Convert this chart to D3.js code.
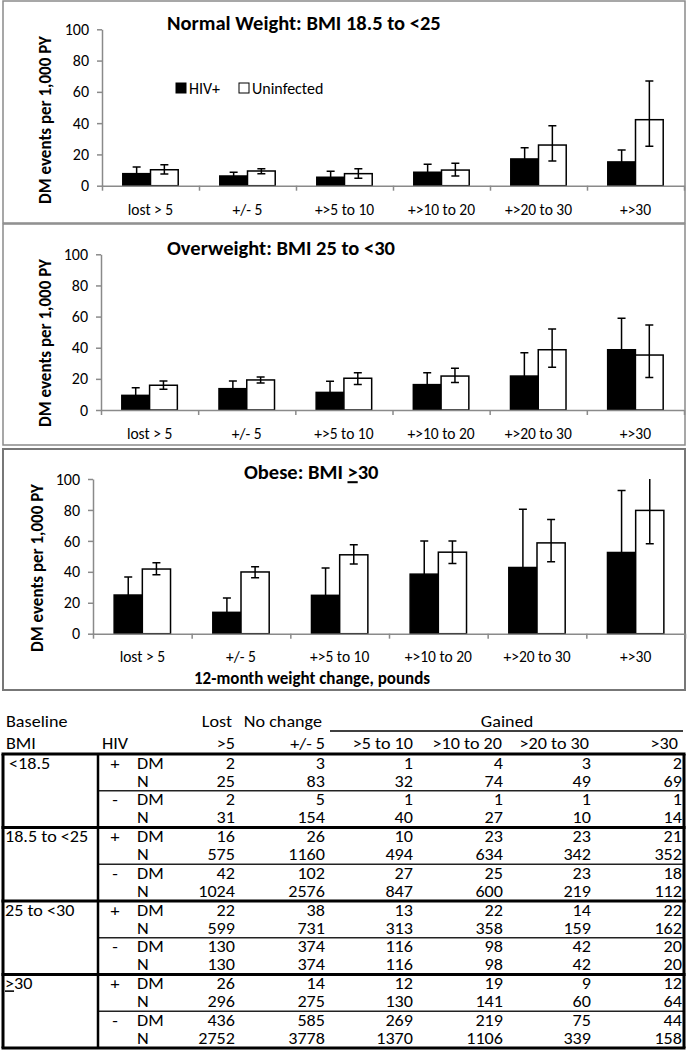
<!DOCTYPE html>
<html>
<head>
<meta charset="utf-8">
<script src="https://cdn.jsdelivr.net/npm/d3@7"></script>
<style>
  body { margin: 0; background: #fff; }
  text { font-family: Carlito, Lato, sans-serif; fill: #000; }
</style>
</head>
<body>
<div id="chart"></div>
<script>
// ---- chart data ----
const categories = ["lost > 5", "+/- 5", "+>5 to 10", "+>10 to 20", "+>20 to 30", "+>30"];
const seriesNames = ["HIV+", "Uninfected"];
const yTicks = [0, 20, 40, 60, 80, 100];
const panelTitles = ["Normal Weight: BMI 18.5 to <25", "Overweight: BMI 25 to <30", "Obese: BMI \u226530"];
const yTitle = "DM events per 1,000 PY";
const xTitle = "12-month weight change, pounds";

// normal weight
const normalHiv    = [7.7, 6.2, 5.4, 8.6, 17.1, 15.2];
const normalHivLo  = [4.5, 4.0, 2.8, 5.2, 11.5, 10.0];
const normalHivHi  = [12.0, 8.6, 9.2, 13.7, 24.3, 22.8];
const normalUnin   = [10.2, 9.4, 7.7, 10.0, 26.0, 42.2];
const normalUninLo = [7.5, 7.7, 4.7, 6.2, 15.8, 25.2];
const normalUninHi = [13.4, 10.9, 10.9, 14.3, 38.4, 66.9];

// overweight
const overHiv    = [9.4, 13.7, 11.3, 16.3, 21.8, 38.7];
const overHivLo  = [5.5, 9.5, 6.5, 11.0, 12.0, 25.0];
const overHivHi  = [14.3, 18.6, 18.5, 24.0, 36.8, 58.9];
const overUnin   = [15.9, 19.3, 20.4, 21.8, 38.7, 35.3];
const overUninLo = [13.3, 17.3, 16.3, 17.6, 27.4, 20.8];
const overUninHi = [18.6, 21.2, 24.0, 26.8, 52.0, 54.6];

// obese
const obeseHiv    = [25.0, 13.8, 24.8, 38.5, 42.8, 52.5];
const obeseHivLo  = [16.0, 7.0, 15.0, 25.0, 22.0, 30.0];
const obeseHivHi  = [36.6, 23.1, 42.4, 60.0, 80.5, 92.5];
const obeseUnin   = [41.8, 39.9, 51.0, 52.7, 58.7, 79.7];
const obeseUninLo = [38.1, 36.2, 45.0, 45.4, 46.5, 58.2];
const obeseUninHi = [45.9, 43.3, 57.5, 60.0, 73.9, 108];

// ---- table data ----
const bmiGroups = ["<18.5", "18.5 to <25", "25 to <30", "\u226530"];
const hivSigns = ["+", "-"];
const rowKinds = ["DM", "N"];
const headTop = ["Baseline", "Lost", "No change", "Gained"];
const headBottom = ["BMI", "HIV"];
const colHeads = [">5", "+/- 5", ">5 to 10", ">10 to 20", ">20 to 30", ">30"];
const dmPlus  = [[2, 3, 1, 4, 3, 2], [16, 26, 10, 23, 23, 21], [22, 38, 13, 22, 14, 22], [26, 14, 12, 19, 9, 12]];
const nPlus   = [[25, 83, 32, 74, 49, 69], [575, 1160, 494, 634, 342, 352], [599, 731, 313, 358, 159, 162], [296, 275, 130, 141, 60, 64]];
const dmMinus = [[2, 5, 1, 1, 1, 1], [42, 102, 27, 25, 23, 18], [130, 374, 116, 98, 42, 20], [436, 585, 269, 219, 75, 44]];
const nMinus  = [[31, 154, 40, 27, 10, 14], [1024, 2576, 847, 600, 219, 112], [130, 374, 116, 98, 42, 20], [2752, 3778, 1370, 1106, 339, 158]];

const gray = "#8a8a8a";

const svg = d3.select("#chart").append("svg")
    .attr("width", 687)
    .attr("height", 1050);

// writes a string, drawing "≥" as an underlined ">" like the source
function richText(sel, str) {
    const parts = str.split("\u2265");
    parts.forEach((part, i) => {
        if (i > 0) sel.append("tspan").style("text-decoration", "underline").text(">");
        if (part) sel.append("tspan").text(part);
    });
    return sel;
}

const panels = [
    {box: [3, 1, 682, 222], x0: 102, x1: 684, yTop: 29.3, yZero: 185.7, titleX: 167, titleY: 23,
        yTitleX: 45, yTitleY: 120, catY: 209.5, legend: true,
        series: [[normalHiv, normalHivLo, normalHivHi], [normalUnin, normalUninLo, normalUninHi]]},
    {box: [3, 224, 682, 221], x0: 101, x1: 684, yTop: 254.3, yZero: 410, titleX: 167, titleY: 248,
        yTitleX: 45, yTitleY: 343, catY: 434,
        series: [[overHiv, overHivLo, overHivHi], [overUnin, overUninLo, overUninHi]]},
    {box: [3, 449, 682, 241], x0: 93, x1: 685, yTop: 479, yZero: 633.7, titleX: 244, titleY: 472,
        yTitleX: 37, yTitleY: 568, catY: 656.7, xTitle: true,
        series: [[obeseHiv, obeseHivLo, obeseHivHi], [obeseUnin, obeseUninLo, obeseUninHi]]}
];

panels.forEach((p, pi) => {
    const g = svg.append("g");

    g.append("rect")
        .attr("x", p.box[0]).attr("y", p.box[1])
        .attr("width", p.box[2]).attr("height", p.box[3])
        .attr("fill", "none")
        .attr("stroke", pi == 2 ? "#777" : gray)
        .attr("stroke-width", pi == 2 ? 2 : 1.5);

    const y = d3.scaleLinear().domain([0, 100]).range([p.yZero, p.yTop]);
    const x = d3.scaleBand().domain(categories).range([p.x0, p.x1]).padding(0);
    // Excel default gap width 150%
    const xs = d3.scaleBand().domain(seriesNames).range([0, x.bandwidth()]).paddingInner(0).paddingOuter(0.75);
    const xt = d3.scaleLinear().domain([0, categories.length]).range([p.x0, p.x1]);

    const clipId = "clip" + pi;
    g.append("clipPath").attr("id", clipId)
        .append("rect")
        .attr("x", p.x0).attr("y", p.yTop)
        .attr("width", p.x1 - p.x0).attr("height", p.yZero - p.yTop);

    const rows = [];
    categories.forEach((c, i) => {
        seriesNames.forEach((s, si) => {
            rows.push({cat: c, s: s, si: si, v: p.series[si][0][i], lo: p.series[si][1][i], hi: p.series[si][2][i]});
        });
    });

    g.selectAll(".bar")
        .data(rows)
        .enter().append("rect")
        .attr("class", "bar")
        .attr("x", d => x(d.cat) + xs(d.s))
        .attr("y", d => y(d.v))
        .attr("width", xs.bandwidth())
        .attr("height", d => y(0) - y(d.v))
        .attr("fill", d => d.si == 0 ? "#000" : "#fff")
        .attr("stroke", "#000")
        .attr("stroke-width", 1.5);

    const eb = g.append("g").attr("clip-path", "url(#" + clipId + ")");
    const capW = 4;
    rows.forEach(d => {
        const cx = x(d.cat) + xs(d.s) + xs.bandwidth() / 2;
        const e = eb.append("g").attr("stroke", "#000").attr("stroke-width", 1.5);
        e.append("line").attr("x1", cx).attr("x2", cx).attr("y1", y(d.lo)).attr("y2", y(d.hi));
        e.append("line").attr("x1", cx - capW).attr("x2", cx + capW).attr("y1", y(d.hi)).attr("y2", y(d.hi));
        e.append("line").attr("x1", cx - capW).attr("x2", cx + capW).attr("y1", y(d.lo)).attr("y2", y(d.lo));
    });

    // y axis
    const ya = g.append("g")
        .attr("transform", "translate(" + p.x0 + ",0)")
        .call(d3.axisLeft(y).tickValues(yTicks).tickSize(5).tickSizeOuter(0).tickPadding(8));
    ya.select(".domain").attr("stroke", gray).attr("stroke-width", 1.5);
    ya.selectAll(".tick line").attr("stroke", gray).attr("stroke-width", 1.5);
    ya.selectAll("text").attr("font-size", 16).attr("font-family", null).attr("fill", "#000");

    // x axis line with boundary ticks
    const xa = g.append("g")
        .attr("transform", "translate(0," + p.yZero + ")")
        .call(d3.axisBottom(xt).tickValues(d3.range(categories.length + 1)).tickFormat("").tickSize(5).tickSizeOuter(0));
    xa.select(".domain").attr("stroke", gray).attr("stroke-width", 1.5);
    xa.selectAll(".tick line").attr("stroke", gray).attr("stroke-width", 1.5);

    // category labels
    const ca = g.append("g")
        .attr("transform", "translate(0," + p.catY + ")")
        .call(d3.axisBottom(x).tickSize(0).tickPadding(0));
    ca.select(".domain").remove();
    ca.selectAll("text").attr("y", 0).attr("dy", "0.35em").attr("font-size", 15.5).attr("font-family", null).attr("fill", "#000");

    // titles
    richText(g.append("text")
        .attr("x", p.titleX).attr("y", p.titleY).attr("dy", "0.35em")
        .attr("font-size", 20.5).attr("font-weight", "bold"), panelTitles[pi]);

    g.append("text")
        .attr("transform", "translate(" + p.yTitleX + "," + p.yTitleY + ") rotate(-90)")
        .attr("text-anchor", "middle").attr("dy", "0.35em")
        .attr("font-size", 17).attr("font-weight", "bold")
        .text(yTitle);

    if (p.xTitle) {
        g.append("text")
            .attr("x", 194).attr("y", 678).attr("dy", "0.35em")
            .attr("font-size", 17).attr("font-weight", "bold")
            .text(xTitle);
    }

    if (p.legend) {
        const lg = g.append("g").attr("transform", "translate(176,83)");
        const lx = [0, 63];
        seriesNames.forEach((s, si) => {
            lg.append("rect").attr("x", lx[si]).attr("y", 0).attr("width", 10).attr("height", 10)
                .attr("fill", si == 0 ? "#000" : "#fff").attr("stroke", "#000").attr("stroke-width", 1);
            lg.append("text").attr("x", lx[si] + 13).attr("y", 5.5).attr("dy", "0.35em")
                .attr("font-size", 16).text(s);
        });
    }
});

// ---- table ----
// the table in the source is set in a wide, stretched face
const tg = svg.append("g");
const tFont = 15.5, tStretch = 1.17;
const colRight = [235, 325, 413, 503, 591, 682];
const headRight = [235, 325, 413, 502, 589, 678];
const tableTop = 754, blockH = 73.5, rowOff = [9.5, 27.5, 46, 64], thinOff = 36.8;
const tLeft = 3, tRight = 684, tDiv = 98;

function tText(xx, yy, anchor) {
    return tg.append("text")
        .attr("transform", "translate(" + xx + "," + yy + ") scale(" + tStretch + ",1)")
        .attr("dy", "0.35em")
        .attr("text-anchor", anchor)
        .attr("font-size", tFont);
}

tText(6, 722, "start").text(headTop[0]);
tText(232, 722, "end").text(headTop[1]);
tText(322, 722, "end").text(headTop[2]);
tText(507, 722, "middle").text(headTop[3]);
tg.append("line").attr("x1", 330).attr("x2", 683).attr("y1", 731).attr("y2", 731).attr("stroke", "#000").attr("stroke-width", 1.5);
tText(6, 744, "start").text(headBottom[0]);
tText(102, 744, "start").text(headBottom[1]);
colHeads.forEach((h, i) => {
    tText(headRight[i], 744, "end").text(h);
});

bmiGroups.forEach((b, gi) => {
    const top = tableTop + gi * blockH;
    richText(tText(gi == 0 ? 9 : 5, top + rowOff[0], "start"), b);
    const vals = [dmPlus[gi], nPlus[gi], dmMinus[gi], nMinus[gi]];
    vals.forEach((row, ri) => {
        const yy = top + rowOff[ri];
        if (ri % 2 == 0) {
            tText(115, yy, "middle").text(hivSigns[ri / 2]);
        }
        tText(137, yy, "start").text(rowKinds[ri % 2]);
        row.forEach((v, ci) => {
            tText(colRight[ci], yy, "end").text(v);
        });
    });
    tg.append("line").attr("x1", tDiv).attr("x2", tRight).attr("y1", top + thinOff).attr("y2", top + thinOff)
        .attr("stroke", "#222").attr("stroke-width", 1.5);
});

// thick rules
d3.range(bmiGroups.length + 1).forEach(i => {
    const yy = tableTop + i * blockH;
    tg.append("line").attr("x1", tLeft - 1.5).attr("x2", tRight + 1.5).attr("y1", yy).attr("y2", yy)
        .attr("stroke", "#000").attr("stroke-width", 3);
});
[tLeft, tDiv, tRight].forEach((xx, i) => {
    tg.append("line").attr("x1", xx).attr("x2", xx).attr("y1", tableTop).attr("y2", tableTop + bmiGroups.length * blockH)
        .attr("stroke", "#000").attr("stroke-width", i == 1 ? 2.5 : 3);
});
</script>
</body>
</html>
